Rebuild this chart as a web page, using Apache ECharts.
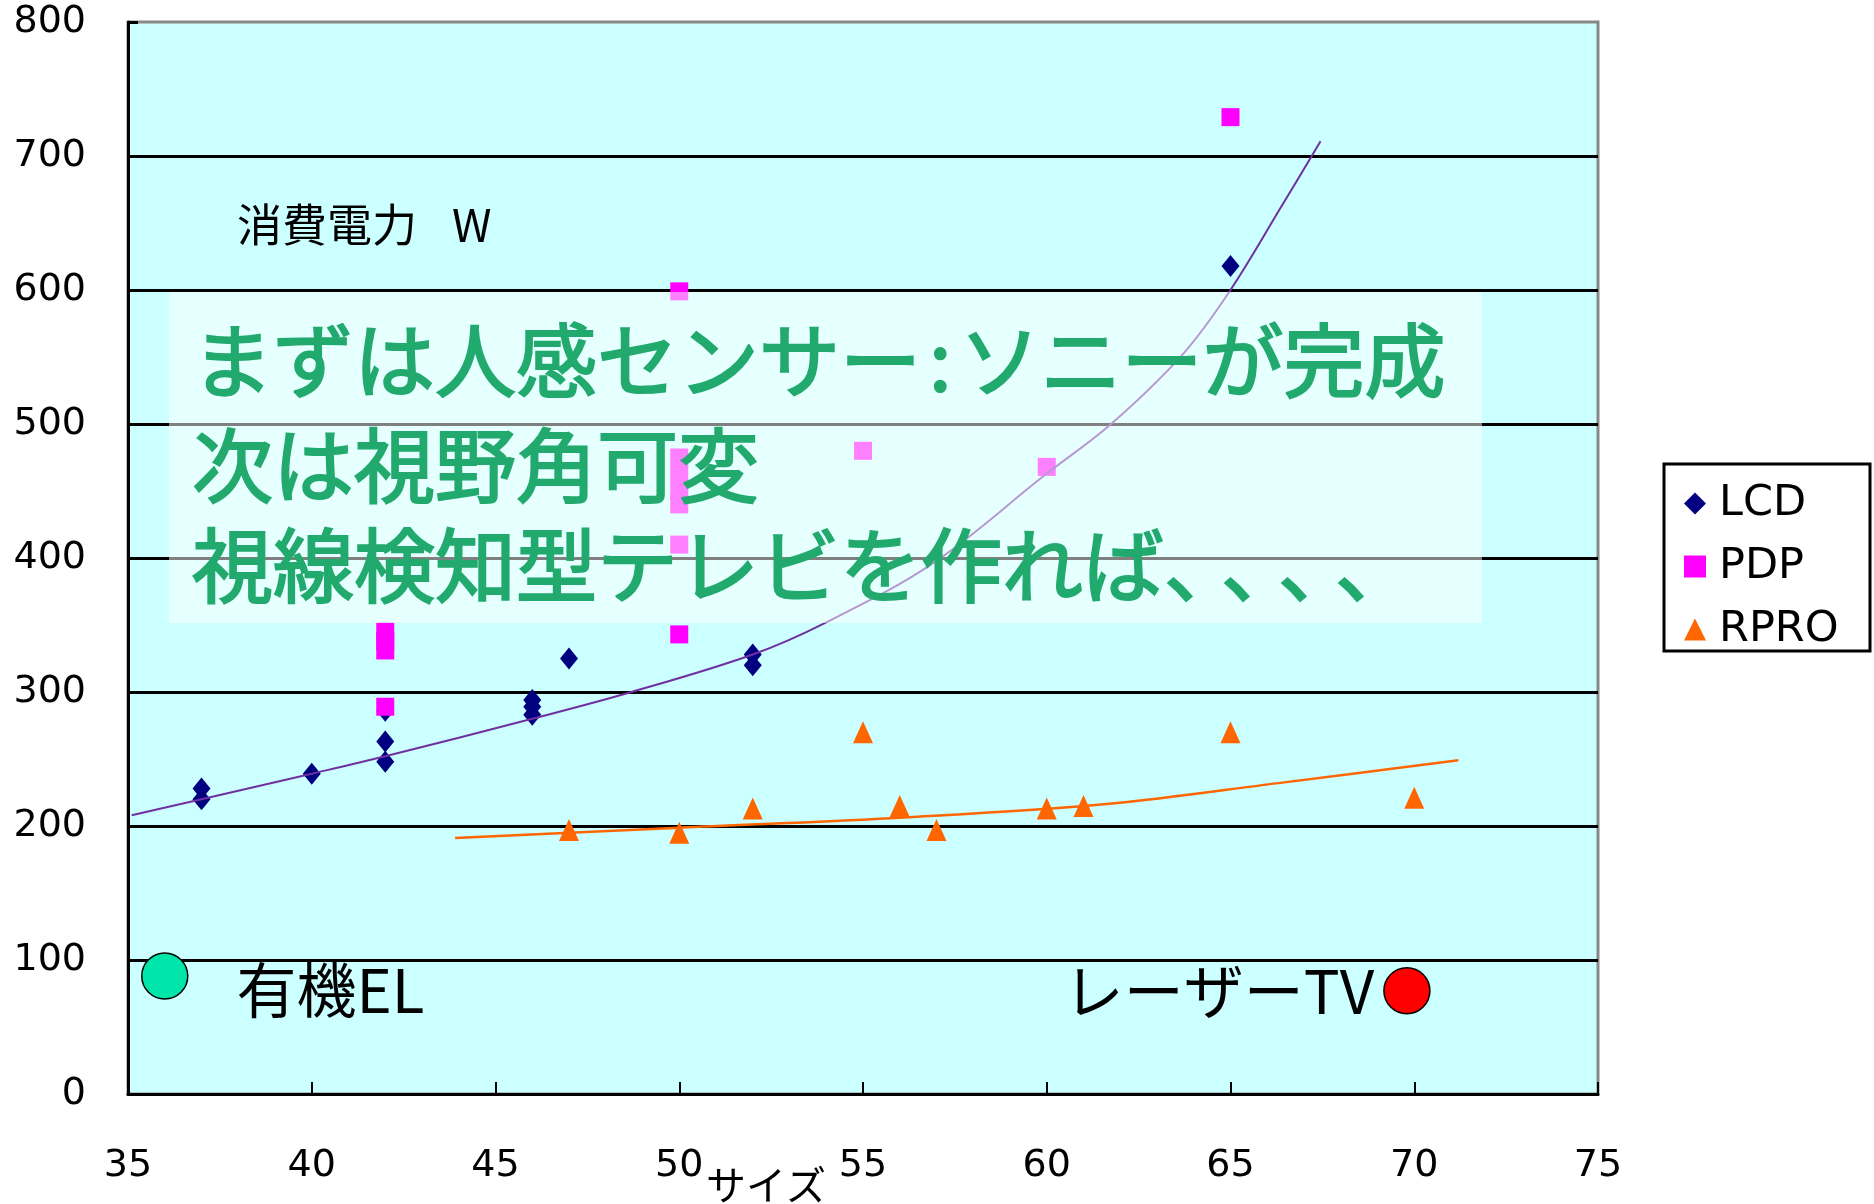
<!DOCTYPE html>
<html>
<head>
<meta charset="utf-8">
<title>消費電力とサイズ</title>
<script src="https://cdn.jsdelivr.net/npm/echarts@6/dist/echarts.min.js"></script>
<style>
  html, body { margin: 0; padding: 0; background: #ffffff; }
  #chart { width: 1874px; height: 1204px; }
</style>
</head>
<body>
<div id="chart"></div>
<script>
// ---- axes ----
const xMin = 35, xMax = 75, xStep = 5;
const yMin = 0, yMax = 800, yStep = 100;

// ---- measured points: [size (inch), power (W)] ----
const lcdPoints = [
  [37, 228], [37, 220], [40, 239], [42, 248], [42, 263], [42, 286],
  [46, 294], [46, 289], [46, 283], [47, 325], [52, 328], [52, 320], [65, 618]
];
const pdpPoints = [
  [42, 345], [42, 338], [42, 331], [42, 289], [50, 599], [50, 475], [50, 462],
  [50, 450], [50, 440], [50, 410], [50, 343], [55, 480], [60, 468], [65, 729]
];
const rproPoints = [
  [47, 197], [50, 195], [52, 213], [55, 270], [56, 215],
  [57, 197], [60, 213], [61, 215], [65, 270], [70, 221]
];

// ---- trend curves ----
const lcdTrend = [
  [35.1, 208], [37, 220], [40, 239], [42, 252], [46, 280], [48.7, 300],
  [52, 328], [54, 352], [56.9, 396], [60, 463], [61.75, 500], [63.7, 552],
  [65, 600], [66.4, 663], [67.45, 711]
];
const rproTrend = [
  [43.9, 191], [50, 198.7], [56.25, 206.6], [61.7, 216.6], [66.3, 232], [71.2, 249]
];

// ---- future technologies ----
const oledPoint = [36, 88];
const laserPoint = [69.8, 77];

// ---- texts ----
const seriesNames = ['LCD', 'PDP', 'RPRO'];
const oledLabel = '有機EL';
const laserLabel = 'レーザーTV';
const unitLabel = '消費電力';
const unitSymbol = 'W';
const xAxisTitle = 'サイズ';
const messageLine1a = 'まずは人感センサー';
const messageLine1b = 'ソニーが完成';
const messageLine2 = '次は視野角可変';
const messageLine3 = '視線検知型テレビを作れば';

const FONT_UI = 'DejaVu Sans';
const FONT_JP = '"Noto Sans CJK JP"';
const GREEN = '#22AA6E';
const MSG_SIZE = 81;

const chart = echarts.init(document.getElementById('chart'), null, { renderer: 'canvas' });

// message glyphs: regular weight, thickened slightly with an outline in the same green
const msgStyle = { fontSize: MSG_SIZE, fontFamily: FONT_JP, fill: GREEN, stroke: GREEN, lineWidth: 2 };
const jpRich = (extra) => Object.assign({}, msgStyle, extra);

const option = {
  animation: false,
  backgroundColor: '#ffffff',
  grid: {
    left: 128, top: 22, width: 1470, height: 1072,
    show: true, backgroundColor: '#CCFFFF', borderColor: '#888888', borderWidth: 3
  },
  xAxis: {
    type: 'value', min: xMin, max: xMax, interval: xStep,
    axisLine: { show: true, onZero: false, lineStyle: { color: '#000', width: 3 } },
    axisTick: { show: true, inside: true, length: 12, lineStyle: { color: '#000', width: 2 } },
    axisLabel: { margin: 53, fontSize: 38, fontFamily: FONT_UI, color: '#000' },
    splitLine: { show: false }
  },
  yAxis: {
    type: 'value', min: yMin, max: yMax, interval: yStep,
    axisLine: { show: true, lineStyle: { color: '#000', width: 3 } },
    axisTick: { show: true, inside: true, length: 10, lineStyle: { color: '#000', width: 3 } },
    axisLabel: { margin: 42, fontSize: 38, fontFamily: FONT_UI, color: '#000' },
    splitLine: { show: true, showMaxLine: false, lineStyle: { color: '#000', width: 3 } }
  },
  legend: {
    orient: 'vertical', left: 1684, top: 482, padding: 0,
    itemWidth: 22, itemHeight: 22, itemGap: 20,
    textStyle: { fontFamily: FONT_UI, fontSize: 43, color: '#000', lineHeight: 40, padding: [0, 0, 0, 8] },
    data: seriesNames,
    selectedMode: false
  },
  series: [
    {
      name: seriesNames[0], type: 'scatter', data: lcdPoints,
      symbol: 'diamond', symbolSize: [18, 22],
      itemStyle: { color: '#000080', opacity: 1 }, z: 2
    },
    {
      name: seriesNames[1], type: 'scatter', data: pdpPoints,
      symbol: 'rect', symbolSize: 18,
      itemStyle: { color: '#FF00FF', opacity: 1 }, z: 2
    },
    {
      name: seriesNames[2], type: 'scatter', data: rproPoints,
      symbol: 'triangle', symbolSize: [20, 22],
      itemStyle: { color: '#FF6600', opacity: 1 }, z: 2
    },
    {
      name: 'LCD trend', type: 'line', data: lcdTrend,
      smooth: 0.35, showSymbol: false, symbol: 'none',
      lineStyle: { color: '#7030A0', width: 2 }, z: 3
    },
    {
      name: 'RPRO trend', type: 'line', data: rproTrend,
      smooth: 0.35, showSymbol: false, symbol: 'none',
      lineStyle: { color: '#FF6600', width: 2.5 }, z: 3
    },
    {
      name: oledLabel, type: 'scatter', data: [oledPoint],
      symbol: 'circle', symbolSize: 46,
      itemStyle: { color: '#00E6AA', borderColor: '#000', borderWidth: 1.5, opacity: 1 },
      label: {
        show: true, position: 'right', distance: 48, offset: [0, 14], formatter: oledLabel,
        fontFamily: FONT_JP, fontSize: 60, color: '#000'
      },
      z: 4
    },
    {
      name: laserLabel, type: 'scatter', data: [laserPoint],
      symbol: 'circle', symbolSize: 46,
      itemStyle: { color: '#FF0000', borderColor: '#000', borderWidth: 1.5, opacity: 1 },
      label: {
        show: true, position: 'left', distance: 9, formatter: laserLabel,
        fontFamily: FONT_JP, fontSize: 60, color: '#000'
      },
      z: 4
    }
  ],
  graphic: [
    // legend frame
    {
      type: 'rect', z: 0,
      shape: { x: 1664, y: 464, width: 206, height: 187 },
      style: { fill: '#ffffff', stroke: '#000', lineWidth: 3 }
    },
    // unit caption
    {
      type: 'text', z: 5, x: 237, y: 225,
      style: {
        text: unitLabel + '{w|' + unitSymbol + '}',
        fontFamily: FONT_JP, fontSize: 45, fill: '#000',
        verticalAlign: 'middle', align: 'left',
        rich: { w: { fontFamily: FONT_JP, fontSize: 45, fill: '#000', padding: [0, 0, 0, 35] } }
      }
    },
    // axis title
    {
      type: 'text', z: 5, x: 706, y: 1185,
      style: {
        text: xAxisTitle, fontFamily: FONT_JP, fontSize: 40, fill: '#000',
        verticalAlign: 'middle', align: 'left'
      }
    },
    // translucent message panel
    {
      type: 'rect', z: 10,
      shape: { x: 169, y: 292, width: 1313, height: 331 },
      style: { fill: 'rgba(255,255,255,0.5)' }
    },
    {
      type: 'text', z: 11, x: 192, y: 360,
      style: Object.assign({}, msgStyle, {
        text: '{m|' + messageLine1a + '}{k|:}{m|' + messageLine1b + '}',
        verticalAlign: 'middle', align: 'left',
        rich: { m: jpRich({}), k: jpRich({ padding: [0, 8, 0, 8] }) }
      })
    },
    {
      type: 'text', z: 11, x: 192, y: 465,
      style: Object.assign({}, msgStyle, {
        text: messageLine2,
        verticalAlign: 'middle', align: 'left'
      })
    },
    {
      type: 'text', z: 11, x: 192, y: 565,
      style: Object.assign({}, msgStyle, {
        text: '{m|' + messageLine3 + '}{c|、}{c|、}{c|、}{c|、}',
        verticalAlign: 'middle', align: 'left',
        rich: { m: jpRich({}), c: jpRich({ width: 57 }) }
      })
    }
  ]
};

chart.setOption(option);
</script>
</body>
</html>
